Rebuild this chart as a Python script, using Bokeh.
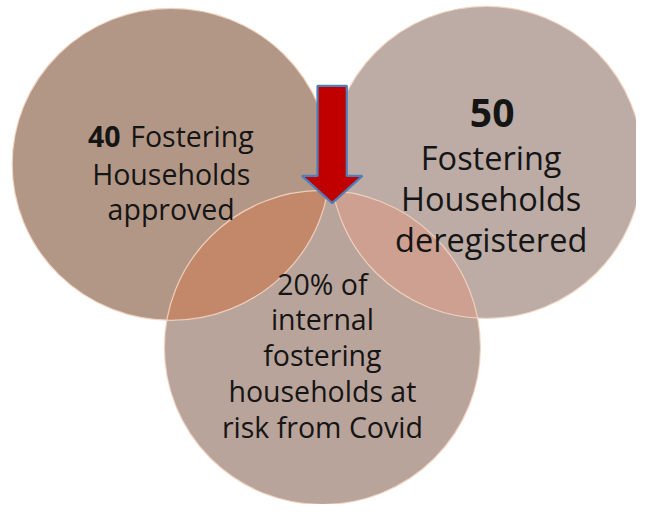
import numpy as np
from bokeh.plotting import figure
from bokeh.models import Range1d
from bokeh.core.properties import value
from bokeh.embed import file_html
from bokeh.resources import INLINE

# ---- data -------------------------------------------------------------
# circles: (cx, cy, rx, ry) in picture pixels
circle_names = ["approved", "deregistered", "at_risk"]
circle_cx = [175, 498, 330]
circle_cy = [169, 167, 358]
circle_rx = [163, 160, 162]
circle_ry = [161, 161, 162]
circle_fill = ["#b39786", "#bcaca5", "#b9a49b"]
lens_pairs = [(0, 2), (1, 2)]
lens_fill = ["#c3886a", "#cda091"]

# texts
left_bold = "40"
left_lines = ["Fostering", "Households", "approved"]
right_bold = "50"
right_lines = ["Fostering", "Households", "deregistered"]
bottom_lines = ["20% of", "internal", "fostering", "households at", "risk from Covid"]

# arrow (centre x, shaft top, head top, tip, shaft width, head width)
arrow_x, arrow_top, arrow_head_y, arrow_tip = 340, 88, 181, 209
arrow_shaft_w, arrow_head_w = 30, 62

FONT = "Open Sans"
TXT = "#151515"


def ell_pts(i, n=1440):
    t = np.linspace(0, 2 * np.pi, n, endpoint=False)
    return (circle_cx[i] + circle_rx[i] * np.cos(t),
            circle_cy[i] + circle_ry[i] * np.sin(t))


def inside(i, x, y):
    return ((x - circle_cx[i]) / circle_rx[i]) ** 2 + ((y - circle_cy[i]) / circle_ry[i]) ** 2 <= 1.0


def lens(a, b):
    ax, ay = ell_pts(a)
    bx, by = ell_pts(b)
    ma = inside(b, ax, ay)
    mb = inside(a, bx, by)
    xs = np.concatenate([ax[ma], bx[mb]])
    ys = np.concatenate([ay[ma], by[mb]])
    mx, my = xs.mean(), ys.mean()
    order = np.argsort(np.arctan2(ys - my, xs - mx))
    return xs[order], ys[order]


p = figure(width=636, height=504, output_backend="svg", toolbar_location=None,
           x_range=Range1d(0, 652), y_range=Range1d(520, 0), min_border=0)
p.axis.visible = False
p.grid.visible = False
p.outline_line_color = None
p.background_fill_color = "white"
p.border_fill_color = "white"

# circles
for i in range(3):
    p.ellipse(x=circle_cx[i], y=circle_cy[i], width=2 * circle_rx[i], height=2 * circle_ry[i],
              fill_color=circle_fill[i], line_color=None)
# lenses
for (a, b), col in zip(lens_pairs, lens_fill):
    lx, ly = lens(a, b)
    p.patch(lx, ly, fill_color=col, line_color=None)
# outlines
for i in range(3):
    p.ellipse(x=circle_cx[i], y=circle_cy[i], width=2 * circle_rx[i], height=2 * circle_ry[i],
              fill_color=None, line_color="#f4d4c0", line_width=1.2, line_alpha=0.9)

# arrow
ax_ = [arrow_x - arrow_shaft_w / 2, arrow_x + arrow_shaft_w / 2, arrow_x + arrow_shaft_w / 2,
       arrow_x + arrow_head_w / 2, arrow_x, arrow_x - arrow_head_w / 2, arrow_x - arrow_shaft_w / 2]
ay_ = [arrow_top, arrow_top, arrow_head_y, arrow_head_y, arrow_tip, arrow_head_y, arrow_head_y]
p.patch(ax_, ay_, fill_color="#c00000", line_color="#4f7fb8", line_width=2.2)

# left text
p.text(x=[123], y=[140], text=[left_bold], text_font=value(FONT), text_font_style="bold",
       text_font_size="28.5px", text_align="right", text_baseline="alphabetic", text_color=TXT)
p.text(x=[133], y=[140], text=[left_lines[0]], text_font=value(FONT),
       text_font_size="28.5px", text_align="left", text_baseline="alphabetic", text_color=TXT)
p.text(x=[175, 175], y=[179, 215], text=left_lines[1:], text_font=value(FONT),
       text_font_size="28.5px", text_align="center", text_baseline="alphabetic", text_color=TXT)

# right text
p.text(x=[504], y=[116], text=[right_bold], text_font=value(FONT), text_font_style="bold",
       text_font_size="39px", text_align="center", text_baseline="alphabetic", text_color=TXT)
p.text(x=[503, 503, 503], y=[162, 204, 247], text=right_lines, text_font=value(FONT),
       text_font_size="32.5px", text_align="center", text_baseline="alphabetic", text_color=TXT)

# bottom text
p.text(x=[330] * 5, y=[292, 329, 366, 403, 440], text=bottom_lines, text_font=value(FONT),
       text_font_size="28.5px", text_align="center", text_baseline="alphabetic", text_color=TXT)

open("out.html", "w").write(file_html(p, INLINE))
